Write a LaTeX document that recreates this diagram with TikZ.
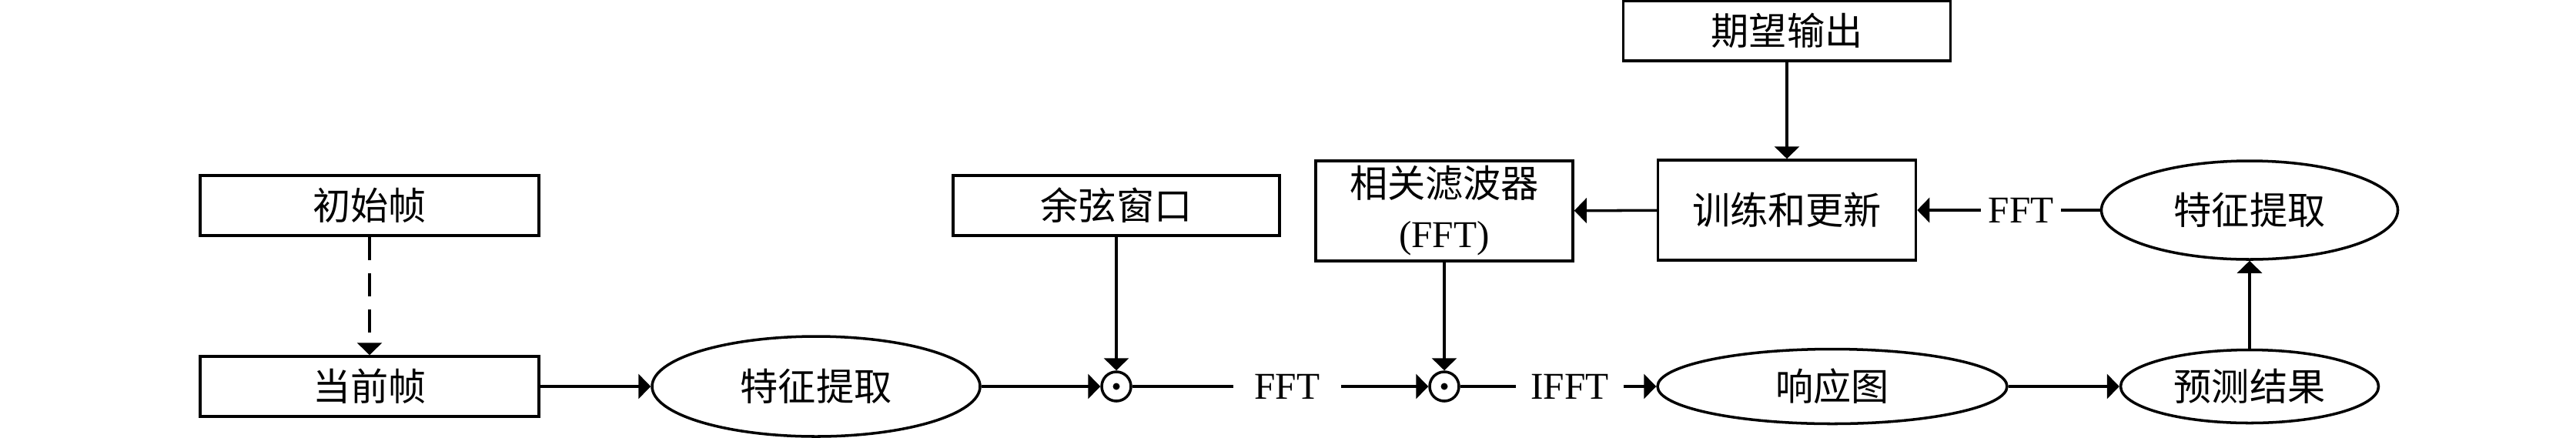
\documentclass[tikz,border=0pt]{standalone}
\usepackage{fontspec}
\setmainfont{Liberation Serif}
\newfontfamily\cjk{Noto Sans CJK SC}
\usetikzlibrary{arrows.meta,shapes.geometric}

\begin{document}
\begin{tikzpicture}[
    font=\fontsize{14}{18.5}\selectfont,
    line width=1pt,
    >={Triangle[length=0.16cm,width=0.32cm]},
    box/.style={rectangle, draw, minimum height=0.78cm, inner sep=0pt, align=center},
    oval/.style={ellipse, draw, inner sep=0pt},
    odot/.style={circle, draw, minimum size=0.38cm, inner sep=0pt,
        path picture={\fill (path picture bounding box.center) circle (0.045);}},
    lbl/.style={inner xsep=0pt, inner ysep=2pt, minimum width=1.36cm},
    dashline/.style={dash pattern=on 0.3cm off 0.17cm}
]
    \useasboundingbox (0,0) rectangle (33.46,-5.68);

    \begin{scope}
        \node[box, minimum width=4.40cm] (init) at (4.80,-2.67) {\cjk 初始帧};
        \node[box, minimum width=4.40cm] (cur) at (4.80,-5.02) {\cjk 当前帧};
        \node[oval, minimum width=4.26cm, minimum height=1.30cm] (feat1) at (10.60,-5.02) {\cjk 特征提取};
        \node[odot] (o1) at (14.50,-5.02) {};
        \node[box, minimum width=4.24cm] (win) at (14.50,-2.67) {\cjk 余弦窗口};
        \node[lbl] (fft1) at (16.72,-5.02) {FFT};
        \node[odot] (o2) at (18.76,-5.02) {};
        \node[box, minimum width=3.34cm, minimum height=1.30cm] (filt) at (18.76,-2.74) {{\cjk 相关滤波器}\\(FFT)};
        \node[lbl] (ifft) at (20.39,-5.02) {IFFT};
    \end{scope}

    \begin{scope}
        \node[oval, minimum width=4.54cm, minimum height=0.97cm] (resp) at (23.80,-5.02) {\cjk 响应图};
        \node[oval, minimum width=3.35cm, minimum height=0.95cm] (pred) at (29.22,-5.02) {\cjk 预测结果};
        \node[oval, minimum width=3.85cm, minimum height=1.28cm] (feat2) at (29.22,-2.73) {\cjk 特征提取};
        \node[lbl, minimum width=1.01cm] (fft2) at (26.25,-2.73) {FFT};
        \node[box, minimum width=3.35cm, minimum height=1.30cm] (train) at (23.21,-2.73) {\cjk 训练和更新};
        \node[box, minimum width=4.25cm] (goal) at (23.21,-0.40) {\cjk 期望输出};
    \end{scope}

    \draw[->, dashline] (init) -- (cur);
    \draw[->] (cur) -- (feat1);
    \draw[->] (feat1) -- (o1);
    \draw[->] (win) -- (o1);
    \draw (o1) -- (fft1);
    \draw[->] (fft1) -- (o2);
    \draw[->] (filt) -- (o2);
    \draw (o2) -- (ifft);
    \draw[->] (ifft) -- (resp);
    \draw[->] (resp) -- (pred);
    \draw[->] (pred) -- (feat2);
    \draw (feat2) -- (fft2);
    \draw[->] (fft2) -- (train);
    \draw[->] (train) -- (filt);
    \draw[->] (goal) -- (train);
\end{tikzpicture}
\end{document}
